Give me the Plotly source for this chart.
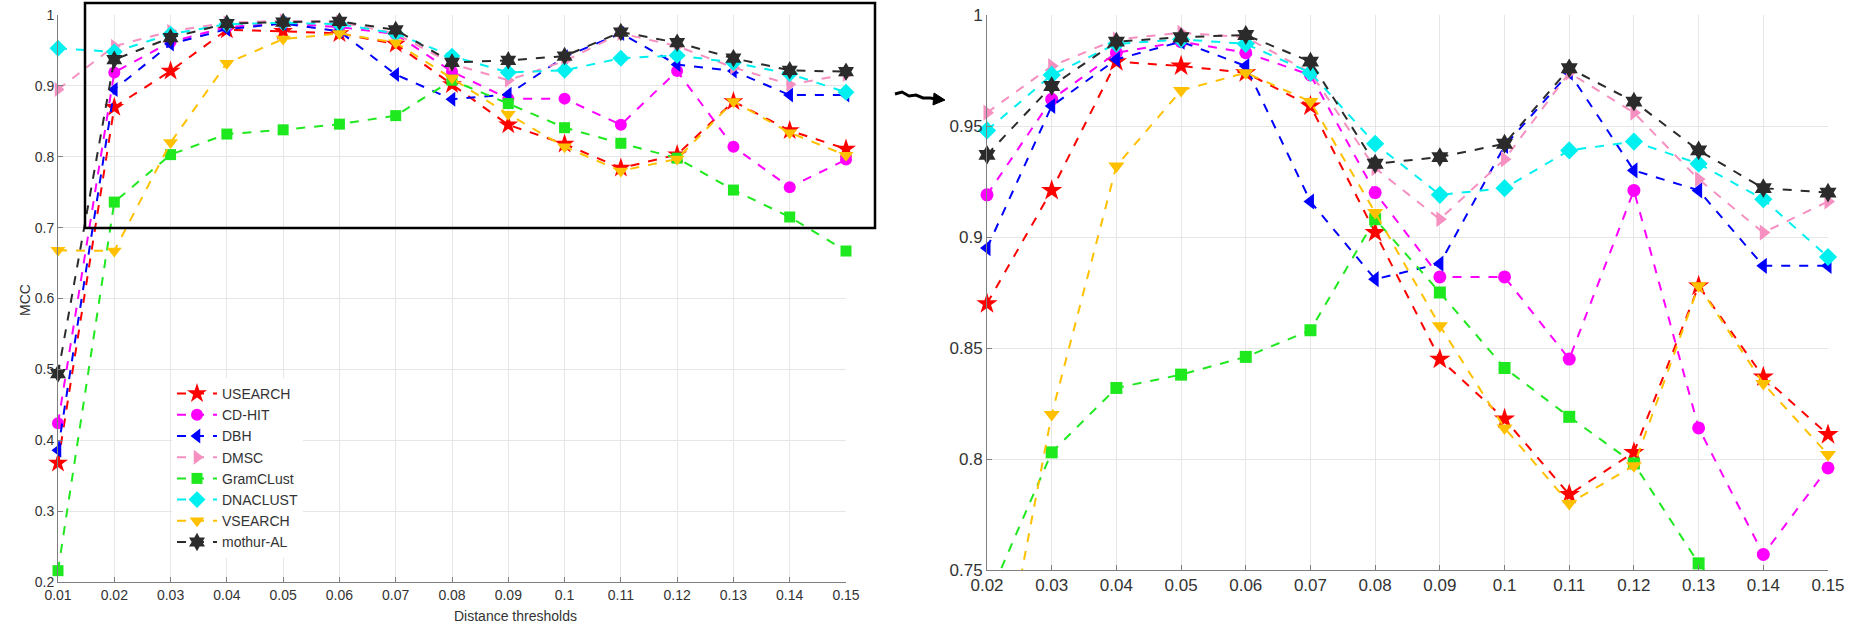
import plotly.graph_objects as go

# Distance thresholds and MCC values
thresholds = [0.01, 0.02, 0.03, 0.04, 0.05, 0.06, 0.07, 0.08,
              0.09, 0.10, 0.11, 0.12, 0.13, 0.14, 0.15]
threshold_labels = ['0.01', '0.02', '0.03', '0.04', '0.05', '0.06', '0.07', '0.08',
                    '0.09', '0.1', '0.11', '0.12', '0.13', '0.14', '0.15']

usearch = [0.368, 0.870, 0.921, 0.979, 0.977, 0.974, 0.959, 0.902, 0.845, 0.818, 0.784, 0.803, 0.878, 0.837, 0.811]
cdhit = [0.424, 0.919, 0.962, 0.983, 0.988, 0.983, 0.973, 0.920, 0.882, 0.882, 0.845, 0.921, 0.814, 0.757, 0.796]
dbh = [0.386, 0.895, 0.959, 0.980, 0.988, 0.977, 0.916, 0.881, 0.888, 0.941, 0.974, 0.930, 0.921, 0.887, 0.887]
dmsc = [0.895, 0.956, 0.977, 0.989, 0.992, 0.990, 0.974, 0.931, 0.908, 0.935, 0.974, 0.956, 0.926, 0.902, 0.916]
gramclust = [0.216, 0.736, 0.803, 0.832, 0.838, 0.846, 0.858, 0.908, 0.875, 0.841, 0.819, 0.798, 0.753, 0.715, 0.667]
dnaclust = [0.953, 0.948, 0.973, 0.987, 0.989, 0.987, 0.974, 0.942, 0.919, 0.922, 0.939, 0.943, 0.933, 0.917, 0.891]
vsearch = [0.668, 0.667, 0.820, 0.932, 0.966, 0.974, 0.961, 0.911, 0.860, 0.814, 0.780, 0.797, 0.878, 0.834, 0.802]
mothur = [0.494, 0.937, 0.968, 0.988, 0.990, 0.991, 0.979, 0.933, 0.936, 0.942, 0.976, 0.961, 0.939, 0.922, 0.920]

left_yticks = [0.2, 0.3, 0.4, 0.5, 0.6, 0.7, 0.8, 0.9, 1.0]
left_ytick_labels = ['0.2', '0.3', '0.4', '0.5', '0.6', '0.7', '0.8', '0.9', '1']
right_yticks = [0.75, 0.8, 0.85, 0.9, 0.95, 1.0]
right_ytick_labels = ['0.75', '0.8', '0.85', '0.9', '0.95', '1']

series = [
    ('USEARCH', usearch, '#ff0000', 'star', 15),
    ('CD-HIT', cdhit, '#ff00ff', 'circle', 12),
    ('DBH', dbh, '#0000ff', 'triangle-left', 13),
    ('DMSC', dmsc, '#f590c0', 'triangle-right', 13),
    ('GramCLust', gramclust, '#1ee81e', 'square', 11),
    ('DNACLUST', dnaclust, '#00f0f0', 'diamond', 13),
    ('VSEARCH', vsearch, '#ffc000', 'triangle-down', 13),
    ('mothur-AL', mothur, '#2b2b2b', 'hexagram', 14),
]

W, H = 1850, 639
FONT = 'Liberation Sans, Arial, sans-serif'


def px(x, y):
    # pixel position -> paper coordinates
    return x / W, 1 - y / H


fig = go.Figure()

right_min = 0.75
for name, vals, color, symbol, size in series:
    # overview panel
    fig.add_trace(go.Scatter(
        x=thresholds, y=vals, name=name, mode='lines+markers',
        line=dict(color=color, width=2, dash='dash'),
        marker=dict(symbol=symbol, size=size, color=color, line=dict(width=0)),
        cliponaxis=False, xaxis='x', yaxis='y', legendgroup=name))
    # zoomed panel
    fig.add_trace(go.Scatter(
        x=thresholds[1:], y=vals[1:], name=name, mode='lines+markers',
        line=dict(color=color, width=2, dash='dash'),
        marker=dict(symbol=symbol, size=size + 1, color=color, line=dict(width=0),
                    opacity=[1 if v >= right_min else 0 for v in vals[1:]]),
        cliponaxis=False, xaxis='x2', yaxis='y2', legendgroup=name, showlegend=False))

axis_common = dict(showgrid=True, gridcolor='#e6e6e6', gridwidth=1, zeroline=False,
                   showline=True, linecolor='#7f7f7f', linewidth=1,
                   ticks='inside', ticklen=5, tickcolor='#7f7f7f', automargin=False)

left_x0, left_y0 = px(58, 582)
left_x1, left_y1 = px(846, 15)
right_x0, right_y0 = px(987, 570)
right_x1, right_y1 = px(1828, 15)

fig.update_layout(
    width=W, height=H,
    margin=dict(l=0, r=0, t=0, b=0),
    paper_bgcolor='white', plot_bgcolor='white',
    font=dict(family=FONT, color='#333333'),
    xaxis=dict(domain=[left_x0, left_x1], range=[0.01, 0.15],
               tickvals=thresholds, ticktext=threshold_labels,
               tickfont=dict(size=14, color='#333333'), anchor='y', **axis_common),
    yaxis=dict(domain=[left_y0, left_y1], range=[0.2, 1.0],
               tickvals=left_yticks, ticktext=left_ytick_labels,
               tickfont=dict(size=14, color='#333333'), anchor='x', **axis_common),
    xaxis2=dict(domain=[right_x0, right_x1], range=[0.02, 0.15],
                tickvals=thresholds[1:], ticktext=threshold_labels[1:],
                tickfont=dict(size=17, color='#333333'), anchor='y2', **axis_common),
    yaxis2=dict(domain=[right_y0, right_y1], range=[0.75, 1.0],
                tickvals=right_yticks, ticktext=right_ytick_labels,
                tickfont=dict(size=17, color='#333333'), anchor='x2', **axis_common),
    legend=dict(x=172 / W, y=1 - 378 / H, xanchor='left', yanchor='top',
                bgcolor='white', borderwidth=0, itemwidth=40,
                font=dict(size=14, color='#333333'), tracegroupgap=0),
    showlegend=True,
)

# axis titles
mx, my = px(15, 300)
fig.add_annotation(x=mx, y=my, xref='paper', yref='paper', text='MCC', textangle=-90,
                   showarrow=False, font=dict(size=14, color='#333333'))
dx, dy = px(452, 626)
fig.add_annotation(x=dx, y=dy, xref='paper', yref='paper', text='Distance thresholds',
                   showarrow=False, font=dict(size=14, color='#333333'))

# black zoom rectangle over the overview panel
bx0, by0 = px(85, 228)
bx1, by1 = px(875, 3)
fig.add_shape(type='rect', xref='paper', yref='paper', x0=bx0, y0=by0, x1=bx1, y1=by1,
              line=dict(color='black', width=2.5), fillcolor='rgba(0,0,0,0)')

# squiggly arrow between panels
wave = [(895, 94), (902, 92), (909, 96), (916, 95), (923, 98), (930, 98), (936, 99)]
path = 'M ' + ' L '.join('%f %f' % px(*p) for p in wave)
fig.add_shape(type='path', xref='paper', yref='paper', path=path,
              line=dict(color='black', width=3))
head = [(934, 93), (945, 100), (933, 105)]
hpath = 'M ' + ' L '.join('%f %f' % px(*p) for p in head) + ' Z'
fig.add_shape(type='path', xref='paper', yref='paper', path=hpath,
              line=dict(color='black', width=1), fillcolor='black')

# the page's default body margin would push the fixed-size figure off the window
fig.write_html('out.html', config={'displayModeBar': False},
               post_script="document.body.style.margin='0';")
